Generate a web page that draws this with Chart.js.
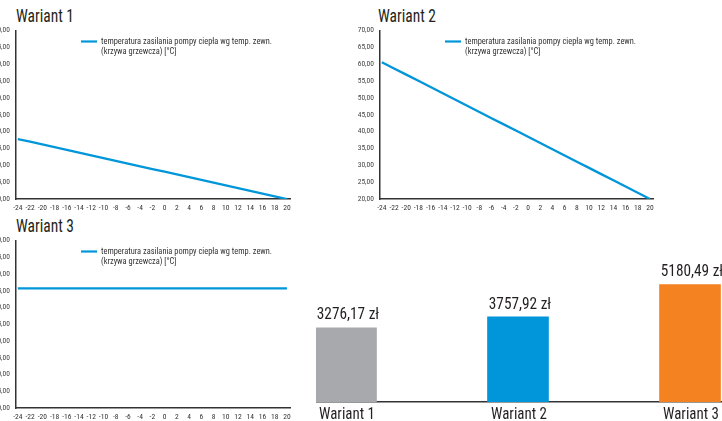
<!DOCTYPE html>
<html><head><meta charset="utf-8">
<script src="https://cdn.jsdelivr.net/npm/chart.js@4.4.1/dist/chart.umd.min.js"></script>
<style>
html,body{margin:0;padding:0;background:#fff;overflow:hidden;width:722px;height:421px;}
.box{position:absolute;}
.title{position:absolute;font-family:'Noto Sans Condensed','Roboto Condensed','DejaVu Sans Condensed',sans-serif;font-stretch:condensed;font-weight:400;font-size:18px;color:#231f20;line-height:18px;white-space:nowrap;transform:scaleX(0.86);transform-origin:0 0;}
</style></head>
<body>
<div class="title" style="left:16px;top:7px;">Wariant 1</div>
<div class="title" style="left:378px;top:7px;">Wariant 2</div>
<div class="title" style="left:16px;top:217px;">Wariant 3</div>
<div class="box" style="left:0;top:20px;width:300px;height:197px;"><canvas id="c1"></canvas></div>
<div class="box" style="left:350px;top:20px;width:313px;height:197px;"><canvas id="c2"></canvas></div>
<div class="box" style="left:0;top:230px;width:300px;height:196px;"><canvas id="c3"></canvas></div>
<div class="box" style="left:316px;top:250px;width:406px;height:171px;overflow:hidden;">
  <div style="position:absolute;left:-60px;top:0;width:520px;height:171px;"><canvas id="c4"></canvas></div>
</div>
<script>
const FONT = "'Noto Sans Condensed','Roboto Condensed','DejaVu Sans Condensed',sans-serif";
const temps = [-24,-22,-20,-18,-16,-14,-12,-10,-8,-6,-4,-2,0,2,4,6,8,10,12,14,16,18,20];
const wariant1 = [37.8,36.99,36.18,35.37,34.56,33.75,32.95,32.14,31.33,30.52,29.71,28.9,28.09,27.28,26.47,25.67,24.86,24.05,23.24,22.43,21.62,20.81,20.0];
const wariant2 = [60.6,58.75,56.91,55.06,53.22,51.37,49.53,47.68,45.84,43.99,42.15,40.3,38.45,36.61,34.76,32.92,31.07,29.23,27.38,25.54,23.69,21.85,20.0];
const wariant3 = [55.7,55.7,55.7,55.7,55.7,55.7,55.7,55.7,55.7,55.7,55.7,55.7,55.7,55.7,55.7,55.7,55.7,55.7,55.7,55.7,55.7,55.7,55.7];
const yTicks = [20,25,30,35,40,45,50,55,60,65,70];
const seriesLabel = "temperatura zasilania pompy ciepła wg temp. zewn.\n(krzywa grzewcza) [°C]";
const barLabels = ["Wariant 1","Wariant 2","Wariant 3"];
const barValues = [3276.17, 3757.92, 5180.49];
const barColors = ["#a7a9ac","#0096d9","#f58220"];
const lineColor = "#0096d9";

function squeezedText(ctx, text, x, y, sx){
  ctx.save(); ctx.translate(x, y); ctx.scale(sx, 1); ctx.fillText(text, 0, 0); ctx.restore();
}

const legendPlugin = {
  id:'innerLegend',
  afterDraw(chart){
    const ctx = chart.ctx, a = chart.chartArea;
    const ds = chart.data.datasets[0];
    ctx.save();
    ctx.strokeStyle = ds.borderColor; ctx.lineWidth = 2.2;
    ctx.beginPath(); ctx.moveTo(a.left+65, a.top+11); ctx.lineTo(a.left+81, a.top+11); ctx.stroke();
    ctx.fillStyle = '#333'; ctx.font = "8.4px " + FONT; ctx.textBaseline = 'middle';
    ds.label.split('\n').forEach((t,i)=>ctx.fillText(t, a.left+85, a.top+11+i*10.5));
    ctx.restore();
  }
};

function lineChart(id, values){
  new Chart(document.getElementById(id), {
    type:'line',
    data:{datasets:[{label:seriesLabel, data:temps.map((t,i)=>({x:t,y:values[i]})), borderColor:lineColor, borderWidth:2.3, pointRadius:0, tension:0, fill:false}]},
    options:{
      responsive:true, maintainAspectRatio:false, animation:false,
      layout:{padding:{top:0,right:10,bottom:0,left:0}},
      plugins:{legend:{display:false}, tooltip:{enabled:false}},
      scales:{
        x:{type:'linear', min:-24.3, max:20.5,
           afterBuildTicks:s=>{s.ticks = temps.map(v=>({value:v}));},
           afterFit:s=>{s.height = 18;},
           grid:{display:false, drawTicks:false},
           border:{display:true,color:'#333',width:1.5},
           ticks:{font:{family:FONT,size:7.5},color:'#333',padding:5,maxRotation:0,autoSkip:false,callback:v=>String(v)}},
        y:{min:20,max:70,
           afterBuildTicks:s=>{s.ticks = yTicks.map(v=>({value:v}));},
           afterFit:s=>{s.width = (id==='c2'?30:16);},
           grid:{display:false, drawTicks:false},
           border:{display:true,color:'#333',width:1.5},
           ticks:{font:{family:FONT,size:7.5},color:'#444',padding:6,callback:v=>v.toFixed(2).replace('.',',')}}
      }
    },
    plugins:[legendPlugin]
  });
}
lineChart('c1', wariant1);
lineChart('c2', wariant2);
lineChart('c3', wariant3);

const barTexts = {
  id:'barTexts',
  afterDatasetsDraw(chart){
    const ctx = chart.ctx, meta = chart.getDatasetMeta(0), xs = chart.scales.x;
    ctx.save(); ctx.fillStyle='#231f20'; ctx.font = "17px " + FONT; ctx.textAlign='center';
    ctx.textBaseline='bottom';
    meta.data.forEach((b,i)=>{
      squeezedText(ctx, barValues[i].toFixed(2).replace('.',',') + ' zł', b.x+2, b.y-4, 0.9);
    });
    ctx.textBaseline='top';
    chart.data.labels.forEach((l,i)=>{
      squeezedText(ctx, l, xs.getPixelForValue(i)+1, xs.top+4, 0.88);
    });
    ctx.restore();
  }
};
new Chart(document.getElementById('c4'), {
  type:'bar',
  data:{labels:barLabels, datasets:[{data:barValues, backgroundColor:barColors, barThickness:61}]},
  options:{
    responsive:true, maintainAspectRatio:false, animation:false,
    layout:{padding:{top:16,right:0,bottom:0,left:4}},
    plugins:{legend:{display:false}, tooltip:{enabled:false}},
    scales:{
      x:{grid:{display:false,drawTicks:false}, border:{display:true,color:'#333',width:1.5},
         afterFit:s=>{s.height=19;},
         ticks:{display:false}},
      y:{display:false,min:0,max:6000}
    }
  },
  plugins:[barTexts]
});
</script>
</body></html>
